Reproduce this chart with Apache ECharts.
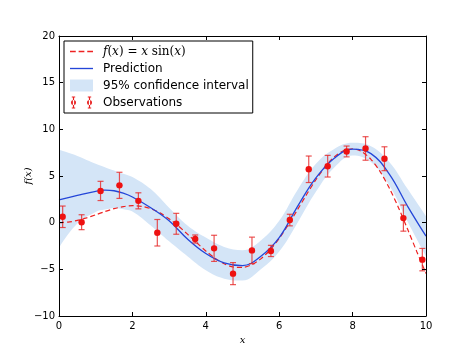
<!DOCTYPE html>
<html>
<head>
<meta charset="utf-8">
<script src="https://cdn.jsdelivr.net/npm/echarts@6/dist/echarts.min.js"></script>
<style>
  html, body { margin: 0; padding: 0; background: #fff; }
  #chart { width: 474px; height: 352px; }
</style>
</head>
<body>
<div id="chart"></div>
<script>
// true function
const fineX = [0, 0.25, 0.5, 0.75, 1, 1.25, 1.5, 1.75, 2, 2.25, 2.5, 2.75, 3, 3.25, 3.5, 3.75, 4, 4.25, 4.5, 4.75,
  5, 5.25, 5.5, 5.75, 6, 6.25, 6.5, 6.75, 7, 7.25, 7.5, 7.75, 8, 8.25, 8.5, 8.75, 9, 9.25, 9.5, 9.75, 10];
const trueValues = [0, 0.06, 0.24, 0.51, 0.84, 1.19, 1.5, 1.72, 1.82, 1.75, 1.5, 1.05, 0.42, -0.35, -1.23, -2.14,
  -3.03, -3.8, -4.4, -4.75, -4.79, -4.51, -3.88, -2.92, -1.68, -0.21, 1.4, 3.04, 4.6, 5.97, 7.04, 7.71, 7.92,
  7.61, 6.79, 5.47, 3.71, 1.61, -0.71, -3.11, -5.44];

// GP prediction and 95% band
const predX = [0, 0.5, 1, 1.25, 1.5, 1.75, 2, 2.5, 3, 3.5, 4, 4.5, 5, 5.5, 6, 6.5, 7, 7.5, 8, 8.5, 9, 9.5, 10];
const predMean = [2.45, 2.92, 3.36, 3.48, 3.42, 3.16, 2.75, 1.6, 0.2, -1.75, -3.3, -4.3, -4.6, -3.6, -1.6, 1.75,
  4.8, 6.9, 7.88, 7.4, 5.2, 1.75, -1.45];
const predUpper = [7.8, 7.15, 6.3, 5.95, 5.6, 5.25, 4.9, 3.6, 1.6, -0.3, -1.6, -2.6, -2.95, -1.9, 0.2, 3.5, 6.3,
  7.9, 8.55, 8.2, 6.5, 3.6, 0.7];
const predLower = [-2.7, -0.1, 1.15, 1.4, 1.55, 1.45, 1.2, -0.3, -2.0, -3.6, -5.1, -6.0, -6.2, -5.0, -3.1, 0.0,
  3.3, 5.9, 7.2, 6.5, 4.0, 0.1, -3.6];

// noisy observations
const obsX = [0.1, 0.616, 1.132, 1.647, 2.163, 2.679, 3.195, 3.711, 4.226, 4.742, 5.258, 5.774, 6.289, 6.805,
  7.321, 7.837, 8.353, 8.868, 9.384, 9.9];
const obsY = [0.63, 0.05, 3.4, 4.0, 2.34, -1.08, -0.12, -1.75, -2.75, -5.46, -2.97, -3.03, 0.28, 5.72, 6.05,
  7.63, 7.95, 6.85, 0.49, -3.96];
const obsErr = [1.15, 0.8, 1.03, 1.4, 0.86, 1.42, 1.12, 0.43, 1.4, 1.18, 1.42, 0.6, 0.62, 1.42, 1.16, 0.58,
  1.26, 1.28, 1.4, 1.2];

const chart = echarts.init(document.getElementById('chart'));

const bandColor = '#d4e5f7';
const minus = v => (v < 0 ? '\u2212' + (-v) : String(v));
const axisBase = {
  type: 'value',
  z: 10,
  axisLine: { show: true, onZero: false, lineStyle: { color: '#000', width: 1 } },
  axisTick: { show: true, inside: true, length: 4, lineStyle: { color: '#000' } },
  splitLine: { show: false }
};
const labelStyle = { color: '#000', fontSize: 10, fontFamily: 'DejaVu Sans' };
const noLine = { width: 0, type: 'solid' };

chart.setOption({
  animation: false,
  backgroundColor: '#fff',
  grid: { left: 59, right: 48, top: 36, bottom: 36 },
  xAxis: [
    Object.assign({}, axisBase, {
      min: 0, max: 10, interval: 2,
      axisLabel: Object.assign({ margin: 5, formatter: minus }, labelStyle),
      name: 'x', nameLocation: 'middle', nameGap: 14,
      nameTextStyle: { fontFamily: 'DejaVu Serif', fontStyle: 'italic', fontSize: 10, color: '#000' }
    }),
    Object.assign({}, axisBase, {
      position: 'top', min: 0, max: 10, interval: 2, axisLabel: { show: false }
    })
  ],
  yAxis: [
    Object.assign({}, axisBase, {
      min: -10, max: 20, interval: 5,
      axisLabel: Object.assign({ margin: 4, formatter: minus }, labelStyle),
      name: 'f(x)', nameLocation: 'middle', nameGap: 26, nameRotate: 90, nameMoveOverlap: false,
      nameTextStyle: { fontFamily: 'DejaVu Serif', fontStyle: 'italic', fontSize: 10, color: '#000' }
    }),
    Object.assign({}, axisBase, {
      position: 'right', min: -10, max: 20, interval: 5, axisLabel: { show: false }
    })
  ],
  legend: {
    orient: 'vertical',
    left: 64,
    top: 41,
    padding: [4, 4, 4, 6],
    itemGap: 4,
    itemWidth: 23,
    itemHeight: 12,
    borderColor: '#000',
    borderWidth: 1,
    backgroundColor: '#fff',
    borderRadius: 0,
    selectedMode: false,
    textStyle: {
      color: '#000', fontSize: 12, fontFamily: 'DejaVu Sans', lineHeight: 13, padding: [0, 0, 0, 5],
      rich: {
        i: { fontFamily: 'DejaVu Serif', fontStyle: 'italic', fontSize: 12 },
        r: { fontFamily: 'DejaVu Serif', fontSize: 12 }
      }
    },
    formatter: name => name === 'f(x) = x sin(x)'
      ? '{i|f}{r|(}{i|x}{r|) = }{i|x}{r| sin(}{i|x}{r|)}'
      : name,
    data: [
      {
        name: 'f(x) = x sin(x)',
        icon: 'path://M0,0H6V1.6H0Z M9,0H15V1.6H9Z M18,0H24V1.6H18Z',
        itemStyle: { color: '#ee2222', borderWidth: 0 },
        lineStyle: noLine
      },
      {
        name: 'Prediction',
        icon: 'path://M0,0H24V1.4H0Z',
        itemStyle: { color: '#2446d8', borderWidth: 0 },
        lineStyle: noLine
      },
      {
        name: '95% confidence interval', icon: 'rect',
        itemStyle: { color: bandColor, borderWidth: 0 }, lineStyle: noLine
      },
      {
        name: 'Observations',
        icon: 'path://M2.3,0H5.7V1.1H4.6V10.9H5.7V12H2.3V10.9H3.4V1.1H2.3Z' +
          'M1.5,6a2.5,2.5 0 1,0 5,0a2.5,2.5 0 1,0 -5,0Z' +
          'M18.3,0H21.7V1.1H20.6V10.9H21.7V12H18.3V10.9H19.4V1.1H18.3Z' +
          'M17.5,6a2.5,2.5 0 1,0 5,0a2.5,2.5 0 1,0 -5,0Z',
        itemStyle: { color: '#e82020', borderWidth: 0 },
        lineStyle: noLine
      }
    ]
  },
  series: [
    {
      // upper edge of the band, filled down to the axis
      name: '95% confidence interval',
      type: 'line',
      smooth: 0.4,
      symbol: 'none',
      itemStyle: { color: bandColor },
      lineStyle: { width: 0, opacity: 0 },
      areaStyle: { color: bandColor, opacity: 1, origin: 'start' },
      data: predX.map((x, i) => [x, predUpper[i]]),
      z: 1,
      silent: true
    },
    {
      // lower edge of the band, blanks out what lies below it
      name: 'band_low',
      type: 'line',
      smooth: 0.4,
      symbol: 'none',
      itemStyle: { color: '#fff' },
      lineStyle: { width: 0, opacity: 0 },
      areaStyle: { color: '#fff', opacity: 1, origin: 'start' },
      data: predX.map((x, i) => [x, predLower[i]]),
      z: 1.5,
      silent: true
    },
    {
      name: 'f(x) = x sin(x)',
      type: 'line',
      smooth: 0.3,
      symbol: 'none',
      itemStyle: { color: '#ee2222' },
      lineStyle: { color: '#ee2222', width: 1.2, type: [5, 3] },
      data: fineX.map((x, i) => [x, trueValues[i]]),
      z: 3
    },
    {
      name: 'Prediction',
      type: 'line',
      smooth: 0.4,
      symbol: 'none',
      itemStyle: { color: '#2446d8' },
      lineStyle: { color: '#2446d8', width: 1.3 },
      data: predX.map((x, i) => [x, predMean[i]]),
      z: 4
    },
    {
      name: 'Observations',
      type: 'custom',
      itemStyle: { color: '#e82020' },
      encode: { x: 0, y: 1 },
      data: obsX.map((x, i) => [x, obsY[i], obsErr[i]]),
      renderItem: (params, api) => {
        const x = api.value(0), y = api.value(1), e = api.value(2);
        const c = api.coord([x, y]);
        const top = api.coord([x, y + e]);
        const bot = api.coord([x, y - e]);
        const bar = { stroke: 'rgba(230,40,40,0.8)', lineWidth: 1.2 };
        return {
          type: 'group',
          children: [
            { type: 'line', shape: { x1: c[0], y1: top[1], x2: c[0], y2: bot[1] }, style: bar },
            { type: 'line', shape: { x1: c[0] - 3, y1: top[1], x2: c[0] + 3, y2: top[1] }, style: bar },
            { type: 'line', shape: { x1: c[0] - 3, y1: bot[1], x2: c[0] + 3, y2: bot[1] }, style: bar },
            { type: 'circle', shape: { cx: c[0], cy: c[1], r: 3.2 }, style: { fill: '#ee1111' } }
          ]
        };
      },
      z: 5
    }
  ]
});
</script>
</body>
</html>
